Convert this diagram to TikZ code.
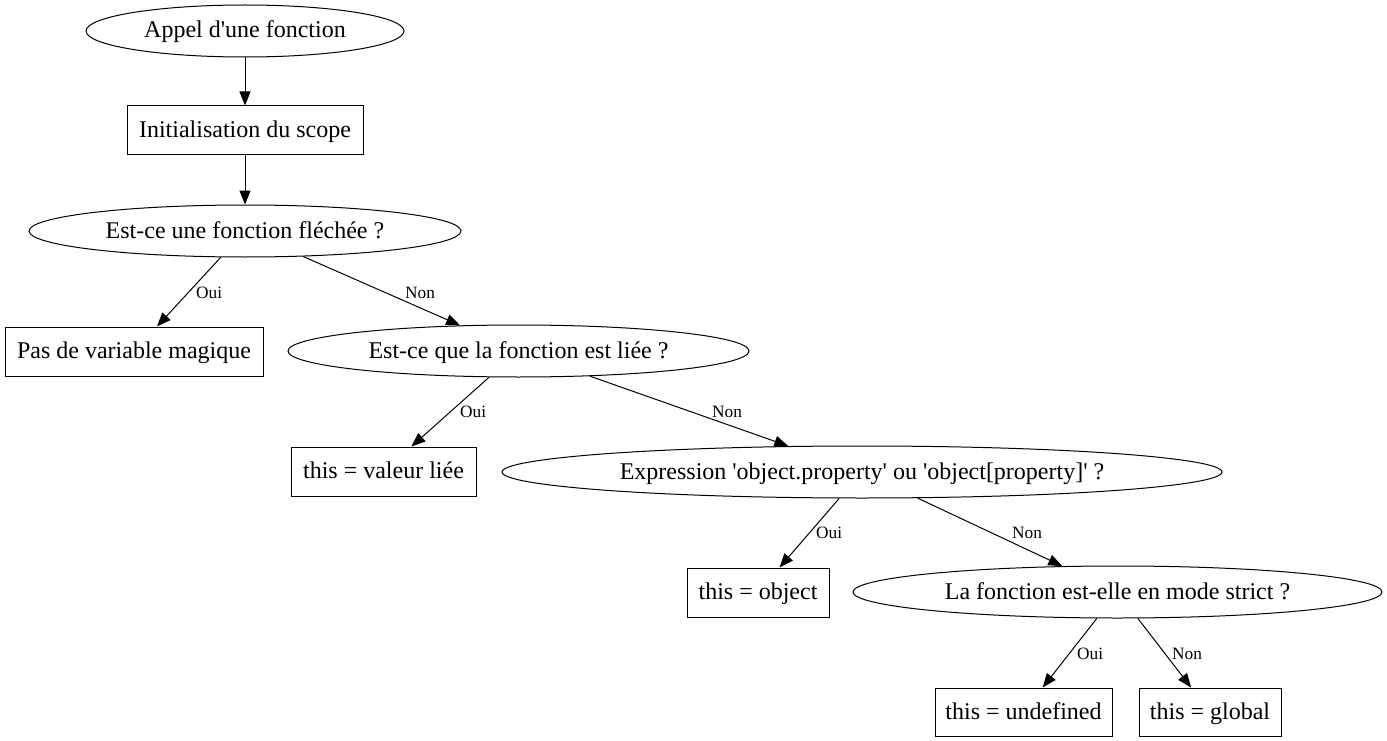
\documentclass[tikz,border=0pt]{standalone}
\usepackage{fontspec}
\setmainfont{Liberation Serif}
\usetikzlibrary{shapes.geometric,arrows.meta}
\newcommand{\q}{\textquotesingle}
\tikzset{
  txt/.style={font=\fontsize{24}{27}\selectfont, text height=18pt, text depth=4pt},
  ell/.style={draw, ellipse, inner sep=0pt, txt, line width=1pt},
  boxn/.style={draw, rectangle, inner sep=0pt, txt, line width=1pt},
  edge/.style={-{Triangle[length=14pt,width=11pt]}, line width=1pt},
  lab/.style={font=\fontsize{17.3}{20}\selectfont, inner sep=0pt, anchor=base west}
}
\begin{document}
\begin{tikzpicture}[x=1pt,y=-1pt]
\useasboundingbox (0,0) rectangle (1387,741);
\node[ell, minimum width=318pt, minimum height=52pt] (n1) at (245,31) {Appel d\q une fonction};
\node[boxn, minimum width=236pt, minimum height=49pt] (n2) at (245,130.5) {Initialisation du scope};
\node[ell, minimum width=432pt, minimum height=52pt] (n3) at (245,231) {Est-ce une fonction fléchée ?};
\node[boxn, minimum width=258pt, minimum height=49pt] (n4) at (134,351.5) {Pas de variable magique};
\node[ell, minimum width=461pt, minimum height=52pt] (n5) at (518.5,351) {Est-ce que la fonction est liée ?};
\node[boxn, minimum width=185pt, minimum height=49pt] (n6) at (383.5,471.5) {this = valeur liée};
\node[ell, minimum width=720pt, minimum height=52pt] (n7) at (862,472) {Expression \q object.property\q{} ou \q object[property]\q{} ?};
\node[boxn, minimum width=142pt, minimum height=49pt] (n8) at (758,592.5) {this = object};
\node[ell, minimum width=529pt, minimum height=52pt] (n9) at (1117.5,592) {La fonction est-elle en mode strict ?};
\node[boxn, minimum width=177pt, minimum height=48pt] (n10) at (1023.5,712) {this = undefined};
\node[boxn, minimum width=142pt, minimum height=48pt] (n11) at (1210,712) {this = global};

\draw[edge] (n1) -- (n2);
\draw[edge] (n2) -- (n3);
\draw[edge] (n3) -- (n4);
\draw[edge] (n3) -- (n5);
\draw[edge] (n5) -- (n6);
\draw[edge] (n5) -- (n7);
\draw[edge] (n7) -- (n8);
\draw[edge] (n7) -- (n9);
\draw[edge] (n9) -- (n10);
\draw[edge] (n9) -- (n11);

\node[lab] (l1) at (196,298) {Oui};
\node[lab] (l2) at (405,298) {Non};
\node[lab] (l3) at (460,417) {Oui};
\node[lab] (l4) at (712,417) {Non};
\node[lab] (l5) at (816,538) {Oui};
\node[lab] (l6) at (1012,538) {Non};
\node[lab] (l7) at (1077,659) {Oui};
\node[lab] (l8) at (1172,659) {Non};
\end{tikzpicture}
\end{document}
